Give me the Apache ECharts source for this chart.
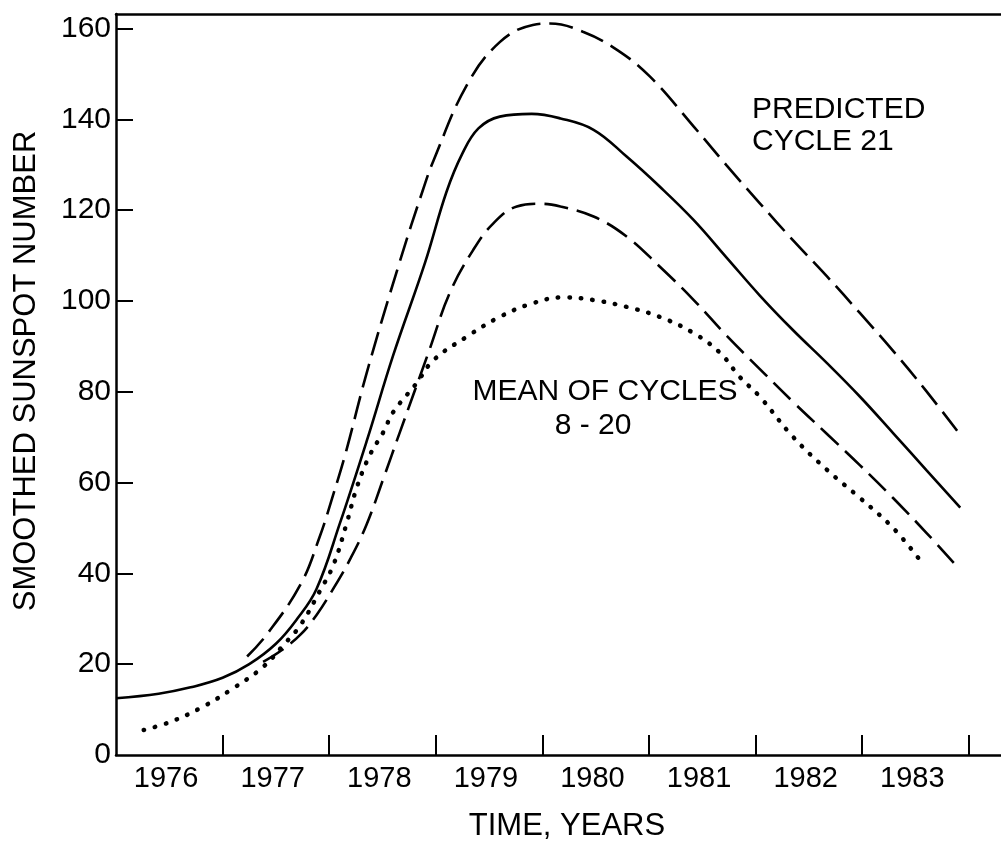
<!DOCTYPE html>
<html>
<head>
<meta charset="utf-8">
<script src="https://cdn.jsdelivr.net/npm/echarts@6/dist/echarts.min.js"></script>
<style>
html,body{margin:0;padding:0;background:#fff;overflow:hidden;}
#chart{width:1001px;height:850px;}
</style>
</head>
<body>
<div id="chart"></div>
<script>
// ---- tick / label values ----
const xTickYears = [1977, 1978, 1979, 1980, 1981, 1982, 1983, 1984];
const xLabelYears = [1976, 1977, 1978, 1979, 1980, 1981, 1982, 1983];
const yTickValues = [0, 20, 40, 60, 80, 100, 120, 140, 160];

// ---- series: [year, smoothed sunspot number] ----
const predictedMean = [
  [1976.0, 12.5], [1976.4, 13.5], [1976.7, 14.9], [1977.0, 17.0], [1977.25, 20.0],
  [1977.5, 24.5], [1977.7, 30.0], [1977.88, 36.5], [1978.1, 51.0], [1978.35, 69.0],
  [1978.6, 88.0], [1978.9, 108.5], [1979.1, 124.0], [1979.25, 132.5], [1979.4, 138.0],
  [1979.6, 140.6], [1979.9, 141.2], [1980.17, 140.2], [1980.48, 137.7], [1980.79, 131.8],
  [1981.1, 125.2], [1981.42, 117.8], [1981.73, 109.5], [1982.04, 101.2], [1982.35, 93.6],
  [1982.67, 86.3], [1982.98, 78.9], [1983.29, 70.9], [1983.6, 62.8], [1983.92, 54.5]
];
const predictedUpper = [
  [1977.23, 21.7], [1977.41, 26.4], [1977.73, 37.5], [1977.91, 48.0], [1978.04, 57.5],
  [1978.16, 67.0], [1978.35, 84.0], [1978.66, 108.5], [1978.88, 124.5], [1978.98, 131.0],
  [1979.29, 147.5], [1979.6, 157.0], [1979.91, 160.8], [1980.07, 161.1], [1980.38, 159.3],
  [1980.7, 155.3], [1981.01, 149.4], [1981.42, 138.4], [1981.73, 129.8], [1982.04, 121.5],
  [1982.35, 113.4], [1982.67, 105.4], [1982.98, 97.3], [1983.29, 89.0], [1983.6, 80.2],
  [1983.92, 70.5]
];
const predictedLower = [
  [1977.38, 20.5], [1977.55, 23.0], [1977.73, 26.5], [1977.88, 30.8], [1978.04, 36.7],
  [1978.2, 43.3], [1978.35, 50.7], [1978.51, 61.0], [1978.66, 70.9], [1978.94, 89.2],
  [1979.13, 101.7], [1979.35, 111.2], [1979.54, 117.1], [1979.76, 120.8], [1979.98, 121.4],
  [1980.17, 120.8], [1980.48, 118.6], [1980.79, 114.2], [1981.1, 107.6], [1981.42, 100.2],
  [1981.73, 92.3], [1982.04, 85.0], [1982.35, 77.8], [1982.67, 70.7], [1982.98, 63.8],
  [1983.29, 56.6], [1983.6, 49.0], [1983.89, 41.5]
];
const meanCycles8to20 = [
  [1976.26, 5.5], [1976.5, 7.2], [1976.79, 10.3], [1977.1, 14.7], [1977.38, 19.4],
  [1977.57, 24.2], [1977.73, 28.6], [1977.91, 36.0], [1978.04, 41.9], [1978.16, 50.7],
  [1978.26, 59.0], [1978.38, 66.0], [1978.51, 71.2], [1978.6, 75.5], [1978.82, 81.9],
  [1978.98, 87.0], [1979.29, 92.1], [1979.6, 96.5], [1979.91, 99.5], [1980.2, 100.8],
  [1980.48, 100.2], [1980.79, 98.7], [1981.1, 96.5], [1981.42, 92.9], [1981.67, 88.5],
  [1981.85, 83.3], [1982.04, 78.9], [1982.35, 70.1], [1982.67, 62.8], [1982.98, 56.6],
  [1983.29, 50.0], [1983.54, 43.0]
];

const FONT = 'Liberation Sans';
const chart = echarts.init(document.getElementById('chart'), null, {renderer: 'canvas'});
const lineBase = {type: 'line', showSymbol: false, symbol: 'none', smooth: 0.4, animation: false};

chart.setOption({
  animation: false,
  backgroundColor: '#ffffff',
  grid: {left: 116, top: 14, width: 900, height: 741, containLabel: false, outerBoundsMode: 'none', show: false},
  xAxis: [{
    type: 'value', position: 'bottom', min: 1976, max: 1984.443,
    axisLine: {show: true, onZero: false, lineStyle: {color: '#000', width: 2.5}},
    axisTick: {show: true, inside: true, length: 20, customValues: xTickYears, lineStyle: {color: '#000', width: 2}},
    axisLabel: {show: true, customValues: xLabelYears.map(function (y) { return y + 0.47; }),
      formatter: function (v) { return String(Math.floor(v)); },
      color: '#000', fontFamily: FONT, fontSize: 29, margin: 9},
    splitLine: {show: false}
  }, {
    type: 'value', position: 'top', min: 1976, max: 1984.443,
    axisLine: {show: true, onZero: false, lineStyle: {color: '#000', width: 2.5}},
    axisTick: {show: false}, axisLabel: {show: false}, splitLine: {show: false}
  }],
  yAxis: {
    type: 'value', min: 0, max: 163.2,
    axisLine: {show: true, onZero: false, lineStyle: {color: '#000', width: 2.5}},
    axisTick: {show: true, inside: true, length: 17, customValues: yTickValues.slice(1), lineStyle: {color: '#000', width: 2}},
    axisLabel: {show: true, customValues: yTickValues, color: '#000', fontFamily: FONT, fontSize: 30, margin: 5},
    splitLine: {show: false}
  },
  series: [
    Object.assign({}, lineBase, {name: 'Predicted cycle 21', data: predictedMean,
      lineStyle: {color: '#000', width: 2.6, type: 'solid'}}),
    Object.assign({}, lineBase, {name: 'Predicted upper', data: predictedUpper,
      lineStyle: {color: '#000', width: 2.6, type: [24, 9]}}),
    Object.assign({}, lineBase, {name: 'Predicted lower', data: predictedLower,
      lineStyle: {color: '#000', width: 2.6, type: [24, 9]}}),
    Object.assign({}, lineBase, {name: 'Mean of cycles 8-20', data: meanCycles8to20,
      lineStyle: {color: '#000', width: 4.5, type: [0.5, 11], cap: 'round'}})
  ],
  graphic: [
    {type: 'rect', z: 100, silent: true, shape: {x: 990, y: 17, width: 12, height: 735},
      style: {fill: '#ffffff'}},
    {type: 'text', x: 26, y: 371, rotation: Math.PI / 2,
      style: {text: 'SMOOTHED SUNSPOT NUMBER', fill: '#000', font: '31px "' + FONT + '"', align: 'center', verticalAlign: 'middle'}},
    {type: 'text', x: 567, y: 826,
      style: {text: 'TIME, YEARS', fill: '#000', font: '31px "' + FONT + '"', align: 'center', verticalAlign: 'middle'}},
    {type: 'text', x: 752, y: 110,
      style: {text: 'PREDICTED', fill: '#000', font: '30px "' + FONT + '"', align: 'left', verticalAlign: 'middle'}},
    {type: 'text', x: 752, y: 142,
      style: {text: 'CYCLE 21', fill: '#000', font: '30px "' + FONT + '"', align: 'left', verticalAlign: 'middle'}},
    {type: 'text', x: 605, y: 392,
      style: {text: 'MEAN OF CYCLES', fill: '#000', font: '30px "' + FONT + '"', align: 'center', verticalAlign: 'middle'}},
    {type: 'text', x: 593, y: 426,
      style: {text: '8 - 20', fill: '#000', font: '30px "' + FONT + '"', align: 'center', verticalAlign: 'middle'}}
  ]
});
</script>
</body>
</html>
